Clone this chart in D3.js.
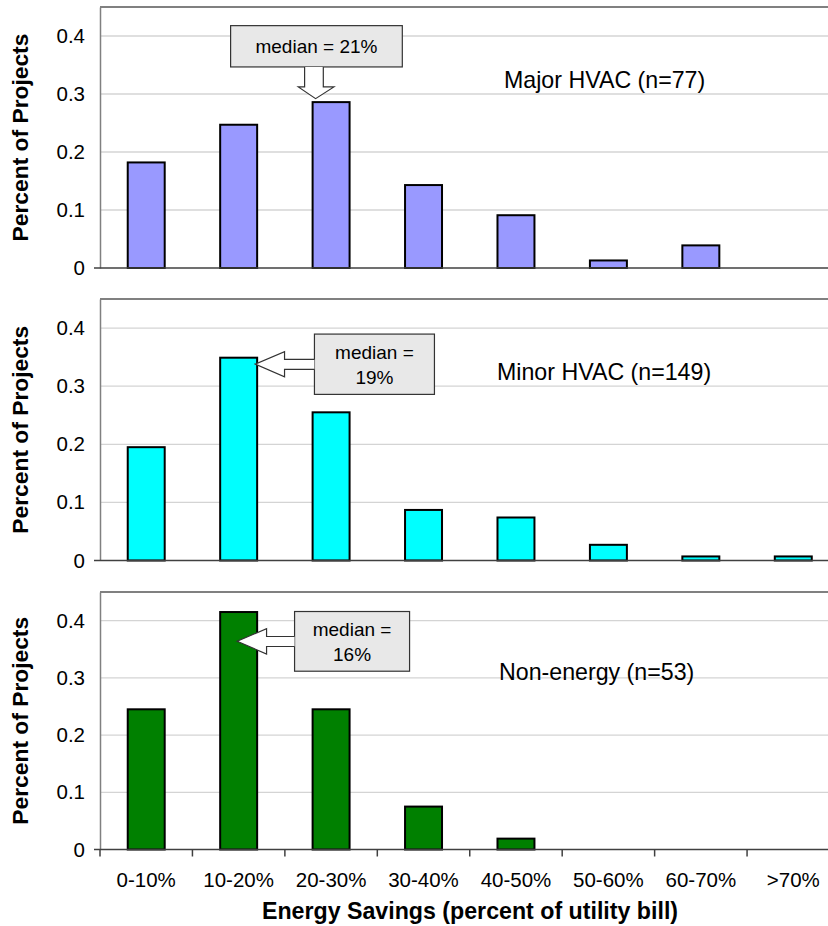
<!DOCTYPE html>
<html>
<head>
<meta charset="utf-8">
<script src="https://cdn.jsdelivr.net/npm/d3@7"></script>
<style>
  html, body { margin: 0; padding: 0; background: #fff; }
  svg { display: block; }
  text { font-family: "Liberation Sans", Arial, sans-serif; fill: #000; }
</style>
</head>
<body>
<svg id="chart" width="828" height="926"></svg>
<script>
// ---- data ----
const categories = ["0-10%", "10-20%", "20-30%", "30-40%", "40-50%", "50-60%", "60-70%", ">70%"];
const majorHVAC = [0.182, 0.247, 0.286, 0.143, 0.091, 0.013, 0.039, 0];
const minorHVAC = [0.195, 0.349, 0.255, 0.087, 0.074, 0.027, 0.007, 0.007];
const nonEnergy = [0.245, 0.415, 0.245, 0.075, 0.019, 0, 0, 0];
const yTicks = [0, 0.1, 0.2, 0.3, 0.4];
const seriesNames = ["Major HVAC (n=77)", "Minor HVAC (n=149)", "Non-energy (n=53)"];
const medianLabels = [["median = 21%"], ["median =", "19%"], ["median =", "16%"]];
const yTitle = "Percent of Projects";
const xTitle = "Energy Savings (percent of utility bill)";

// ---- layout ----
const svg = d3.select("#chart");
const left = 100, right = 839.5;
const panels = [
  { values: majorHVAC, color: "#9999ff", top: 7,   base: 268,   name: seriesNames[0], median: medianLabels[0] },
  { values: minorHVAC, color: "#00ffff", top: 299, base: 560.5, name: seriesNames[1], median: medianLabels[1] },
  { values: nonEnergy, color: "#008000", top: 592, base: 849.5, name: seriesNames[2], median: medianLabels[2] }
];

const x = d3.scaleBand().domain(categories).range([left, right]).paddingInner(0.6).paddingOuter(0.3);
const step = x.step();

panels.forEach((p, i) => {
  const y = d3.scaleLinear().domain([0, 0.45]).range([p.base, p.top]);
  const g = svg.append("g");

  // gridlines
  g.selectAll("line.grid").data(yTicks.filter(t => t > 0)).enter().append("line")
    .attr("x1", left).attr("x2", 828)
    .attr("y1", d => y(d)).attr("y2", d => y(d))
    .attr("stroke", "#d4d4d4").attr("stroke-width", 1.3);

  // top border
  g.append("line").attr("x1", left).attr("x2", 828)
    .attr("y1", p.top).attr("y2", p.top)
    .attr("stroke", "#808080").attr("stroke-width", 2);

  // y axis (left)
  const yAxis = d3.axisLeft(y).tickValues(yTicks).tickSize(0).tickPadding(15)
    .tickFormat(d => d === 0 ? "0" : d3.format(".1f")(d));
  const ya = g.append("g").attr("transform", `translate(${left},0)`).call(yAxis);
  ya.select(".domain").attr("stroke", "#808080").attr("stroke-width", 1.5);
  ya.selectAll("text").style("font-size", "20.5px").attr("fill", "#000")
    .style("font-family", "'Liberation Sans', Arial, sans-serif");

  // bars
  g.selectAll("rect.bar").data(categories.map((c, k) => ({ c, v: p.values[k] })).filter(d => d.v > 0))
    .enter().append("rect")
    .attr("x", d => x(d.c)).attr("width", x.bandwidth())
    .attr("y", d => y(d.v)).attr("height", d => y(0) - y(d.v))
    .attr("fill", p.color).attr("stroke", "#000").attr("stroke-width", 2);

  // baseline
  g.append("line").attr("x1", 94).attr("x2", 828)
    .attr("y1", y(0)).attr("y2", y(0))
    .attr("stroke", "#404040").attr("stroke-width", 1.5);

  // series annotation
  const annY = [0.325, 0.325, 0.31][i];
  const annX = [504, 497, 499][i];
  g.append("text").attr("x", annX).attr("y", y(annY)).attr("dy", "0.35em")
    .style("font-size", "23.2px").text(p.name);

  // y title
  g.append("text")
    .attr("transform", `translate(28,${(p.top + p.base) / 2}) rotate(-90)`)
    .attr("text-anchor", "middle").style("font-size", "22.8px").style("font-weight", "bold")
    .text(yTitle);

  // median callouts
  const boxFill = "#e8e8e8", boxStroke = "#333";
  if (i === 0) {
    const bx = x(categories[2]);
    const tipX = bx + 3, tipY = y(0.292);
    const bL = tipX - 85, bR = tipX + 86.7, bT = tipY - 73, bB = tipY - 31.7;
    g.append("rect").attr("x", bL).attr("y", bT).attr("width", bR - bL).attr("height", bB - bT)
      .attr("fill", boxFill).attr("stroke", boxStroke).attr("stroke-width", 1.2);
    const pts = [[tipX - 11, bB], [tipX - 11, tipY - 11.7], [tipX - 17.3, tipY - 11.7], [tipX, tipY],
                 [tipX + 18.3, tipY - 11.7], [tipX + 7.7, tipY - 11.7], [tipX + 7.7, bB]];
    g.append("path").attr("d", d3.line()(pts)).attr("fill", "#fff").attr("stroke", boxStroke).attr("stroke-width", 1.2);
    g.append("text").attr("x", (bL + bR) / 2).attr("y", (bT + bB) / 2).attr("dy", "0.35em")
      .attr("text-anchor", "middle").style("font-size", "19px").text(p.median[0]);
  } else {
    const bx = x(categories[1]);
    const tipX = i === 1 ? bx + x.bandwidth() - 2 : bx + 17;
    const tipY = i === 1 ? y(0.338) : y(0.364);
    const boxL = tipX + (i === 1 ? 59.3 : 57.4);
    const boxR = boxL + (i === 1 ? 120 : 115);
    const boxT = tipY - (i === 1 ? 30 : 29.7);
    const boxB = tipY + (i === 1 ? 30.3 : 30);
    g.append("rect").attr("x", boxL).attr("y", boxT).attr("width", boxR - boxL).attr("height", boxB - boxT)
      .attr("fill", boxFill).attr("stroke", boxStroke).attr("stroke-width", 1.2);
    const hx = tipX + 29.4;
    const pts = [[boxL, tipY - 4.7], [hx, tipY - 4.7], [hx, tipY - 12.5], [tipX, tipY],
                 [hx, tipY + 12.8], [hx, tipY + 5.3], [boxL, tipY + 5.3]];
    g.append("path").attr("d", d3.line()(pts)).attr("fill", "#fff").attr("stroke", boxStroke).attr("stroke-width", 1.2);
    const cx = (boxL + boxR) / 2;
    g.append("text").attr("x", cx).attr("y", tipY - 11.5).attr("dy", "0.35em")
      .attr("text-anchor", "middle").style("font-size", "19px").text(p.median[0]);
    g.append("text").attr("x", cx).attr("y", tipY + 13).attr("dy", "0.35em")
      .attr("text-anchor", "middle").style("font-size", "19px").text(p.median[1]);
  }

  // x axis only on bottom panel
  if (i === 2) {
    const bounds = categories.map(c => x(c) - step * x.paddingInner() / 2);
    g.selectAll("line.xt").data(bounds).enter().append("line")
      .attr("x1", d => d).attr("x2", d => d)
      .attr("y1", y(0)).attr("y2", y(0) + 7)
      .attr("stroke", "#404040").attr("stroke-width", 1.5);
    g.selectAll("text.xl").data(categories).enter().append("text")
      .attr("x", d => x(d) + x.bandwidth() / 2).attr("y", 887)
      .attr("text-anchor", "middle").style("font-size", "20.5px").text(d => d);
  }
});

svg.append("text").attr("x", 470).attr("y", 919).attr("text-anchor", "middle")
  .style("font-size", "23.2px").style("font-weight", "bold").text(xTitle);
</script>
</body>
</html>
